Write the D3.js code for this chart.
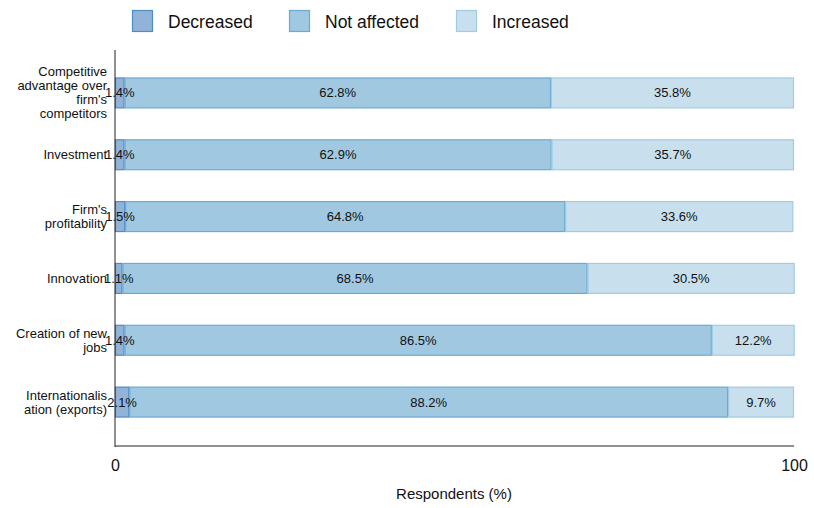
<!DOCTYPE html>
<html><head><meta charset="utf-8">
<script src="https://cdn.jsdelivr.net/npm/d3@7"></script>
<style>body{margin:0;background:#fff;}text{font-family:"Liberation Sans",Arial,Helvetica,sans-serif;fill:#111;}</style>
</head><body><svg id="c" width="814" height="508"></svg>
<script>
const categories = ["Competitive\nadvantage over\nfirm's\ncompetitors","Investment","Firm's\nprofitability","Innovation","Creation of new\njobs","Internationalis\nation (exports)"];
const seriesNames = ["Decreased","Not affected","Increased"];
const decreased = [1.4,1.4,1.5,1.1,1.4,2.1];
const notAffected = [62.8,62.9,64.8,68.5,86.5,88.2];
const increased = [35.8,35.7,33.6,30.5,12.2,9.7];
const xTicks = [0,100];
const fills = ["#92b3d8","#a0c8e1","#c8e0ee"];
const strokes = ["#4f8cc4","#6aaad4","#9fcbe3"];

const svg = d3.select("#c");
const x = d3.scaleLinear().domain([0,100]).range([115,794]);
const y = d3.scaleBand().domain(categories).range([62,433]).paddingInner(0.5).paddingOuter(0.25);

const rows = categories.map((c,i)=>({cat:c, vals:[decreased[i],notAffected[i],increased[i]]}));
const stackData = rows.map(r=>{let acc=0;return r.vals.map((v,k)=>{const s={cat:r.cat,k,v,x0:acc,x1:acc+v};acc+=v;return s;});}).flat();

svg.selectAll("rect.bar").data(stackData).join("rect").attr("class","bar")
 .attr("x",d=>x(d.x0)+0.5).attr("y",d=>y(d.cat)+0.5)
 .attr("width",d=>Math.max(0,x(d.x1)-x(d.x0)-1)).attr("height",y.bandwidth()-1)
 .attr("fill",d=>fills[d.k]).attr("stroke",d=>strokes[d.k]).attr("stroke-width",1.2);

svg.selectAll("text.val").data(stackData).join("text").attr("class","val")
 .attr("x",d=>(x(d.x0)+x(d.x1))/2).attr("y",d=>y(d.cat)+y.bandwidth()/2)
 .attr("dy","0.35em").attr("text-anchor","middle").attr("font-size",13)
 .text(d=>d.v.toFixed(1)+"%");

// axes
const yAxis = svg.append("g").attr("transform","translate(115,0)")
 .call(d3.axisLeft(y).tickSize(0).tickPadding(8));
yAxis.select(".domain").attr("d","M0,50V447").attr("stroke","#222");
yAxis.selectAll(".tick text").each(function(d){
  const t=d3.select(this); const lines=d.split("\n"); t.text(null);
  const lh=14; const n=lines.length;
  lines.forEach((l,i)=>t.append("tspan").attr("x",-8).attr("dy", i===0? ((-(n-1)/2*lh)/13+0.35)+"em" : lh+"px").text(l));
}).attr("font-size",13).attr("font-family","'Liberation Sans',Arial,sans-serif").attr("fill","#111");

const xAxis = svg.append("g").attr("transform","translate(0,446)")
 .call(d3.axisBottom(x).tickValues(xTicks).tickSize(0).tickPadding(14));
xAxis.select(".domain").attr("d","M115,0H794").attr("stroke","#222");
xAxis.selectAll(".tick text").attr("font-size",16).attr("font-family","'Liberation Sans',Arial,sans-serif").attr("fill","#111");

svg.append("text").attr("x",454).attr("y",499).attr("text-anchor","middle").attr("font-size",15).text("Respondents (%)");

// legend
const legX=[132,289,456];
seriesNames.forEach((n,i)=>{
  svg.append("rect").attr("x",legX[i]+0.5).attr("y",10.5).attr("width",20).attr("height",21)
    .attr("fill",fills[i]).attr("stroke",strokes[i]).attr("stroke-width",1.2);
  svg.append("text").attr("x",legX[i]+36).attr("y",21.5).attr("dy","0.35em").attr("font-size",17.5).text(n);
});
</script></body></html>
